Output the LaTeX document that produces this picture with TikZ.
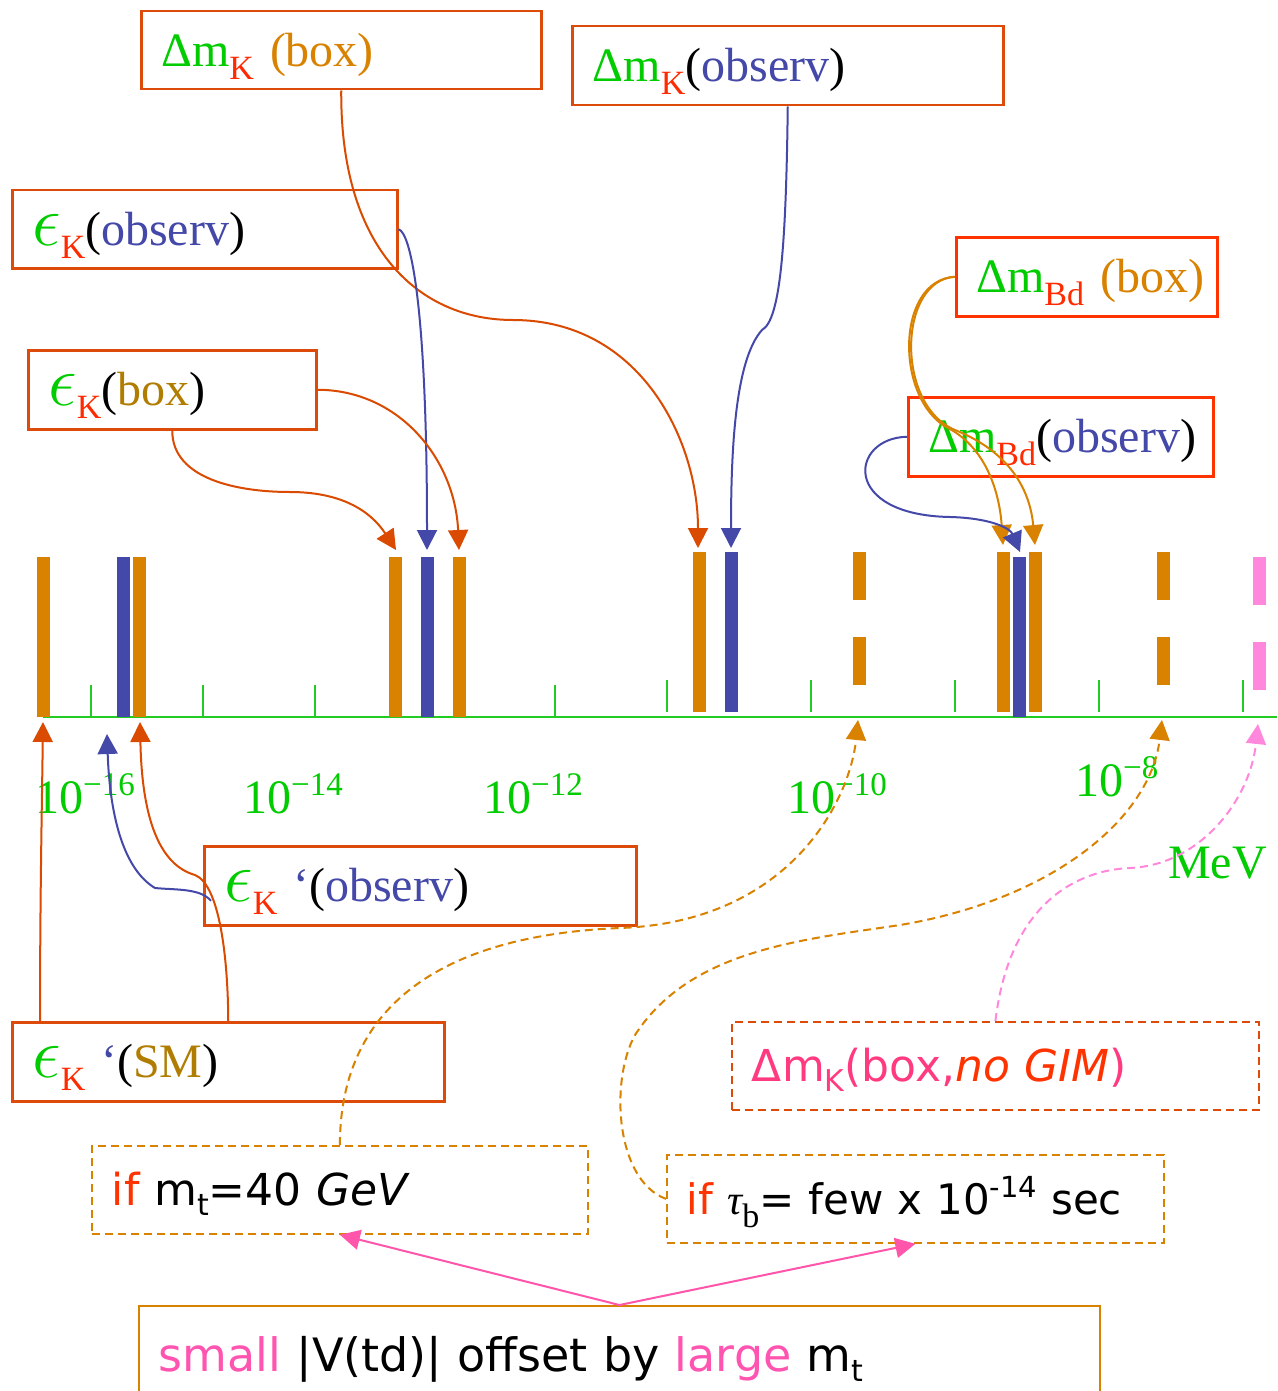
\documentclass[tikz,border=0pt]{standalone}
\usepackage{fontspec}
\setmainfont{Liberation Serif}
\newfontfamily\comic{DejaVu Sans}
\usetikzlibrary{arrows.meta}
\definecolor{cgreen}{HTML}{00CC00}
\definecolor{caxis}{HTML}{22CC22}
\definecolor{cred}{HTML}{FF2A00}
\definecolor{corange}{HTML}{D98200}
\definecolor{cbord}{HTML}{DD4B0B}
\definecolor{cline}{HTML}{DA4A00}
\definecolor{cblue}{HTML}{4448A8}
\definecolor{cgold}{HTML}{B07D00}
\definecolor{cpink}{HTML}{FF88DD}
\definecolor{cpinkarr}{HTML}{FF55AA}
\definecolor{cmag}{HTML}{FF55B0}
\definecolor{cmagb}{HTML}{FF3A80}
\definecolor{cboxred}{HTML}{FF3300}
\newcommand{\sbs}[2]{\textcolor{#1}{\raisebox{-13pt}{\fontsize{34}{34}\selectfont #2}}}
\newcommand{\csb}[1]{\raisebox{-10pt}{\fontsize{30}{30}\selectfont #1}}
\newcommand{\eps}{\textcolor{cgreen}{\scalebox{2.9}{$\epsilon$}}}
\newcommand{\tenp}[1]{10\raisebox{18pt}{\fontsize{33}{33}\selectfont −#1}}
\tikzset{
  bigtxt/.style={font=\fontsize{48}{52}\selectfont},
  sbox/.style={draw=cbord, line width=2.5pt, rectangle, anchor=north west, inner xsep=20pt, inner ysep=0pt,
    text height=32pt, text depth=0pt, align=left, bigtxt},
  rbox/.style={sbox, draw=cboxred},
  dbox/.style={sbox, draw=corange, dash pattern=on 8pt off 5pt, line width=1.8pt, font=\comic\fontsize{44}{48}\selectfont},
  bar/.style={fill=#1, draw=none, anchor=north west, inner sep=0pt, minimum width=13pt},
  conn/.style={line width=2pt, draw=#1, -{Triangle[length=20pt,width=20pt,fill=#1]}},
  dconn/.style={conn=#1, dash pattern=on 8pt off 5pt},
  tick/.style={draw=caxis, line width=2pt},
  axlab/.style={anchor=base west, text=cgreen, inner sep=0pt, bigtxt}
}
\begin{document}
\begin{tikzpicture}[x=1pt,y=-1pt]
\useasboundingbox (0,0) rectangle (1277,1391);
\fill[white] (0,0) rectangle (1277,1391);
% axis
\draw[draw=caxis, line width=2.5pt] (43,717) -- (1277,717);
\foreach \x in {91,203,315,555} \draw[tick] (\x,685) -- (\x,717);
\foreach \x in {667,811,955,1099,1243} \draw[tick] (\x,680) -- (\x,712);
% bars
\node[bar=corange, minimum height=160pt] (b1) at (37,557) {};
\node[bar=cblue, minimum height=160pt] (b2) at (117,557) {};
\node[bar=corange, minimum height=160pt] (b3) at (133,557) {};
\node[bar=corange, minimum height=160pt] (b4) at (389,557) {};
\node[bar=cblue, minimum height=160pt] (b5) at (421,557) {};
\node[bar=corange, minimum height=160pt] (b6) at (453,557) {};
\node[bar=corange, minimum height=160pt] (b7) at (693,552) {};
\node[bar=cblue, minimum height=160pt] (b8) at (725,552) {};
\node[bar=corange, minimum height=48pt] (b9a) at (853,552) {};
\node[bar=corange, minimum height=48pt] (b9b) at (853,637) {};
\node[bar=corange, minimum height=160pt] (b10) at (997,552) {};
\node[bar=cblue, minimum height=160pt] (b11) at (1013,557) {};
\node[bar=corange, minimum height=160pt] (b12) at (1029,552) {};
\node[bar=corange, minimum height=48pt] (b13a) at (1157,552) {};
\node[bar=corange, minimum height=48pt] (b13b) at (1157,637) {};
\node[bar=cpink, minimum height=48pt] (b14a) at (1253,557) {};
\node[bar=cpink, minimum height=48pt] (b14b) at (1253,642) {};
% axis labels
\node[axlab] (l16) at (35,813) {\tenp{16}};
\node[axlab] (l14) at (243,813) {\tenp{14}};
\node[axlab] (l12) at (483,813) {\tenp{12}};
\node[axlab] (l10) at (787,813) {\tenp{10}};
\node[axlab] (l8) at (1075,796) {\tenp{8}};
\node[axlab] (mev) at (1168,878) {MeV};
% boxes
\node[sbox, minimum width=400pt, minimum height=78pt, text width=360pt] (dmkbox) at (140,10)
  {\textcolor{cgreen}{Δm}\sbs{cred}{K} \textcolor{corange}{(box)}};
\node[sbox, minimum width=431pt, minimum height=79pt, text width=390pt] (dmkobs) at (571,25)
  {\textcolor{cgreen}{Δm}\sbs{cred}{K}(\textcolor{cblue}{observ})};
\node[sbox, minimum width=384pt, minimum height=78pt, text width=345pt] (ekobs) at (11,189)
  {\eps\sbs{cred}{K}(\textcolor{cblue}{observ})};
\node[sbox, minimum width=288pt, minimum height=79pt, text width=248pt] (ekbox) at (27,349)
  {\eps\sbs{cred}{K}(\textcolor{cgold}{box})};
\node[rbox, minimum width=261pt, minimum height=79pt, text width=221pt] (dmbbox) at (955,236)
  {\mbox{\textcolor{cgreen}{Δm}\sbs{cred}{Bd} \textcolor{corange}{(box)}}};
\node[rbox, minimum width=305pt, minimum height=79pt, text width=265pt] (dmbobs) at (907,396)
  {\mbox{\textcolor{cgreen}{Δm}\sbs{cred}{Bd}(\textcolor{cblue}{observ})}};
\node[sbox, minimum width=432pt, minimum height=79pt, text width=392pt] (epobs) at (203,845)
  {\eps\sbs{cred}{K} \textcolor{cblue}{‘}(\textcolor{cblue}{observ})};
\node[sbox, minimum width=432pt, minimum height=79pt, text width=392pt] (epsm) at (11,1021)
  {\eps\sbs{cred}{K} \textcolor{cblue}{‘}(\textcolor{cgold}{SM})};
\node[dbox, draw=cbord, minimum width=527pt, minimum height=88pt, text width=487pt] (nogim) at (731,1021)
  {\mbox{\textcolor{cmagb}{Δm\csb{K}(box,}\textcolor{cboxred}{\itshape no GIM}\textcolor{cmagb}{)}}};
\node[dbox, minimum width=496pt, minimum height=88pt, text width=456pt] (ifmt) at (91,1145)
  {\mbox{\textcolor{cboxred}{if} m\csb{t}=40 \textit{GeV}}};
\node[dbox, minimum width=497pt, minimum height=88pt, text width=457pt, font=\comic\fontsize{42}{46}\selectfont] (iftau) at (666,1154)
  {\mbox{\textcolor{cboxred}{if} {\rmfamily\itshape τ}{\rmfamily\sbs{black}{b}}= few x 10\raisebox{17pt}{\fontsize{29}{29}\selectfont -14} sec}};
\node[sbox, draw=corange, line width=1.8pt, minimum width=961pt, minimum height=115pt, text width=921pt, text height=0pt, font=\comic\fontsize{46}{50}\selectfont] (small) at (138,1305)
  {\mbox{\raisebox{-8pt}{\textcolor{cmag}{small} |V(td)| offset by \textcolor{cmag}{large} m\csb{t}}}};
% tip coordinates
\coordinate (t1) at (698,548);
\coordinate (t2) at (731,548);
\coordinate (t3) at (427,550);
\coordinate (t4) at (459,550);
\coordinate (t5) at (396,550);
\coordinate (t6) at (1003,545);
\coordinate (t7) at (1035,545);
\coordinate (t8) at (1020,552);
\coordinate (u1) at (43,722);
\coordinate (u2) at (140,722);
\coordinate (u3) at (107,734);
\coordinate (u4) at (858,720);
\coordinate (u5) at (1162,720);
\coordinate (u6) at (1258,724);
% connectors top
\draw[conn=cline] (dmkbox.south) .. controls (340,250) and (420,320) .. (513,320) .. controls (640,320) and (698,440) .. (t1);
\draw[conn=cblue] (dmkobs.south) .. controls (786,250) and (780,320) .. (762,330) .. controls (735,360) and (731,450) .. (t2);
\draw[conn=cblue] (ekobs.east) .. controls (410,232) and (427,300) .. (t3);
\draw[conn=cline] (ekbox.east) .. controls (400,390) and (455,460) .. (t4);
\draw[conn=cline] (ekbox.south) .. controls (172,480) and (240,492) .. (290,492) .. controls (340,492) and (370,510) .. (t5);
\draw[conn=corange] (dmbbox.west) .. controls (895,280) and (895,400) .. (948,428) .. controls (990,450) and (1000,500) .. (t6);
\draw[conn=corange] (dmbbox.west) .. controls (898,280) and (895,405) .. (955,430) .. controls (1010,452) and (1030,490) .. (t7);
\draw[conn=cblue] (dmbobs.west) .. controls (850,438) and (840,515) .. (950,517) .. controls (990,518) and (1010,528) .. (t8);
% connectors bottom
\draw[conn=cline] ([xshift=29pt]epsm.north west) .. controls (40,900) and (42,800) .. (u1);
\draw[conn=cline] (epsm.north) .. controls (228,960) and (220,885) .. (195,875) .. controls (160,865) and (142,820) .. (u2);
\draw[conn=cblue] ([xshift=8pt,yshift=-15pt]epobs.west) .. controls (200,888) and (175,890) .. (155,888) .. controls (125,870) and (110,820) .. (u3);
\draw[dconn=corange] (ifmt.north) .. controls (340,1000) and (450,935) .. (620,928) .. controls (790,922) and (850,800) .. (u4);
\draw[dconn=corange] (iftau.west) .. controls (615,1180) and (610,1080) .. (635,1035) .. controls (690,950) and (800,940) .. (900,925) .. controls (1050,900) and (1150,820) .. (u5);
\draw[dconn=cpink] (nogim.north) .. controls (1010,900) and (1080,870) .. (1130,868) .. controls (1200,865) and (1250,800) .. (u6);
\draw[conn=cpinkarr] (small.north) -- (ifmt.south);
\draw[conn=cpinkarr] (small.north) -- (iftau.south);
\end{tikzpicture}
\end{document}
